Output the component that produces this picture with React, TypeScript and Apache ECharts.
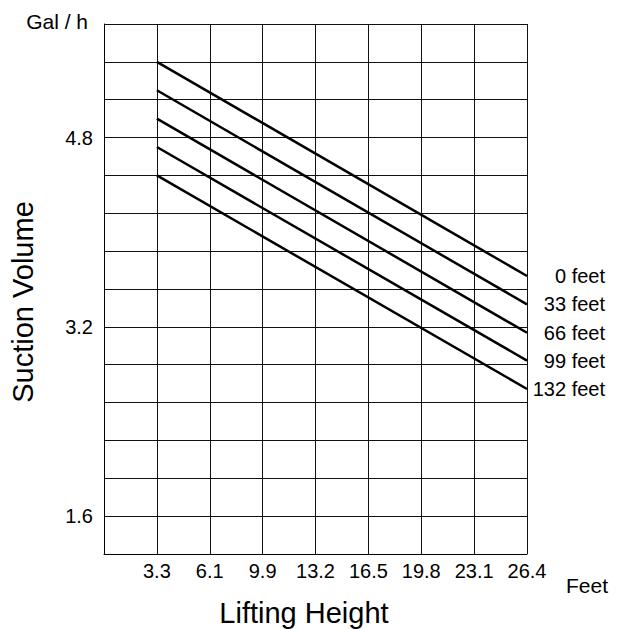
import React, { useEffect, useRef } from "react";
import * as echarts from "echarts";

const xCategories = ["", "3.3", "6.1", "9.9", "13.2", "16.5", "19.8", "23.1", "26.4"];
const yTickLabels = [1.6, 3.2, 4.8];
const seriesNames = ["0 feet", "33 feet", "66 feet", "99 feet", "132 feet"];
const startX = "3.3";
const endX = "26.4";
const startValues = [5.44, 5.2, 4.96, 4.72, 4.48];
const endValues = [3.63, 3.39, 3.15, 2.915, 2.675];

const FONT = "'Liberation Sans', Arial, sans-serif";

export default function App() {
  const ref = useRef<HTMLDivElement>(null);
  useEffect(() => {
    if (!ref.current) return;
    const chart = echarts.init(ref.current, null, { renderer: "svg" });
    const series = seriesNames.map((name, i) => ({
      name,
      type: "line",
      data: [
        [startX, startValues[i]],
        [endX, endValues[i]],
      ],
      symbol: "none",
      lineStyle: { color: "#000", width: 2.5 },
      endLabel: {
        show: true,
        formatter: "{a}",
        align: "right",
        distance: 8,
        offset: [70, 0],
        color: "#000",
        fontSize: 20,
        fontFamily: FONT,
      },
      z: 3,
    }));
    chart.setOption({
      animation: false,
      backgroundColor: "#fff",
      textStyle: { fontFamily: FONT },
      grid: {
        left: 104,
        right: 97,
        top: 24,
        bottom: 75,
        containLabel: false,
        outerBoundsMode: "none",
        show: false,
      },
      xAxis: {
        type: "category",
        data: xCategories,
        boundaryGap: false,
        axisLine: { show: true, lineStyle: { color: "#000", width: 1 } },
        axisTick: { show: false },
        axisLabel: { interval: 0, color: "#000", fontSize: 20, fontFamily: FONT, margin: 7 },
        splitLine: { show: true, interval: 0, lineStyle: { color: "#111", width: 1 } },
        name: "Lifting Height",
        nameLocation: "middle",
        nameGap: 44,
        nameTextStyle: { color: "#000", fontSize: 29, fontFamily: FONT, padding: [0, 23, 0, 0] },
      },
      yAxis: {
        type: "value",
        min: 1.28,
        max: 5.76,
        interval: 0.32,
        axisLine: { show: true, lineStyle: { color: "#000", width: 1 } },
        axisTick: { show: false },
        axisLabel: {
          color: "#000",
          fontSize: 20,
          fontFamily: FONT,
          margin: 11,
          formatter: (v: number) => {
            const hit = yTickLabels.find((t) => Math.abs(t - v) < 1e-6);
            return hit !== undefined ? hit.toFixed(1) : "";
          },
        },
        splitLine: { show: true, lineStyle: { color: "#111", width: 1 } },
        name: "Suction Volume",
        nameLocation: "middle",
        nameRotate: 90,
        nameGap: 67,
        nameTextStyle: { color: "#000", fontSize: 29, fontFamily: FONT, padding: [0, 26, 0, 0] },
      },
      graphic: [
        {
          type: "text",
          x: 88,
          y: 21,
          style: {
            text: "Gal / h",
            fill: "#000",
            fontSize: 21,
            fontFamily: FONT,
            align: "right",
            verticalAlign: "middle",
          },
        },
        {
          type: "text",
          x: 566,
          y: 585,
          style: {
            text: "Feet",
            fill: "#000",
            fontSize: 21,
            fontFamily: FONT,
            align: "left",
            verticalAlign: "middle",
          },
        },
      ],
      series,
    });
    return () => chart.dispose();
  }, []);
  return (
    <div
      ref={ref}
      style={{ position: "fixed", left: 0, top: 0, width: 624, height: 629 }}
    />
  );
}
